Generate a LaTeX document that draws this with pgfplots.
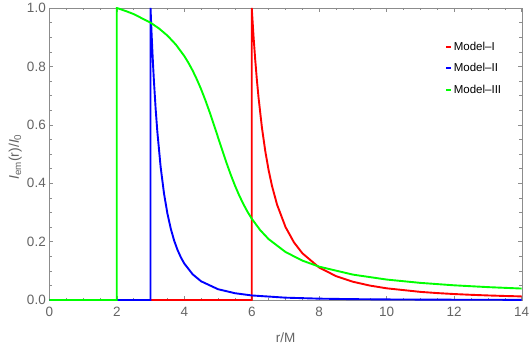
\documentclass[border=0pt]{standalone}
\usepackage{fontspec}
\setmainfont{Liberation Sans}
\usepackage{pgfplots}
\pgfplotsset{compat=1.18}
\definecolor{framegray}{RGB}{140,140,140}
\definecolor{labelgray}{RGB}{100,100,100}
\begin{document}
\begin{tikzpicture}
\useasboundingbox (0,0) rectangle (532pt,346pt);
\begin{axis}[
    at={(49.3pt,46pt)}, anchor=south west,
    scale only axis,
    width=472.4pt, height=292pt,
    xmin=0, xmax=14, ymin=0, ymax=1,
    xtick={0,2,...,14}, ytick={0,0.2,...,1},
    minor x tick num=3, minor y tick num=3,
    tick align=inside,
    major tick length=4pt, minor tick length=2.5pt,
    axis line style={framegray},
    every tick/.style={framegray, line width=0.5pt},
    tick label style={font=\fontsize{13.5}{15}\selectfont, text=labelgray},
    /pgf/number format/assume math mode=true,
    yticklabel style={/pgf/number format/fixed, /pgf/number format/fixed zerofill, /pgf/number format/precision=1},
    xticklabel style={yshift=-4pt},
    xlabel={r/M}, ylabel={\textit{I}\textsubscript{em}(r)/\textit{I}\textsubscript{0}},
    label style={text=labelgray},
    xlabel style={font=\fontsize{13.5}{15}\selectfont, at={(axis description cs:0.5,-0.13)}, anchor=center},
    ylabel style={font=\fontsize{14}{16}\selectfont, at={(axis description cs:-0.072,0.49)}, anchor=center},
    clip=true,
    legend style={draw=none, fill=none, at={(0.838,0.892)}, anchor=north west,
        font=\fontsize{11.5}{13}\selectfont, row sep=8pt, inner sep=0pt,
        /tikz/every even column/.append style={column sep=5pt}},
    legend cell align=left,
    legend image code/.code={\draw[#1, line width=2pt] (0pt,0pt)--(4.5pt,0pt);},
]
% Model-I
\addplot[red, line width=1.9pt] coordinates {
    (0,0) (6,0) (6,1) (6.05,0.907) (6.1,0.8264) (6.15,0.7561) (6.2,0.6944)
    (6.3,0.5917) (6.4,0.5102) (6.5,0.4444) (6.6,0.3906) (6.75,0.3265)
    (7,0.25) (7.25,0.1975) (7.5,0.16) (8,0.1111) (8.5,0.0816) (9,0.0625)
    (9.5,0.0494) (10,0.04) (11,0.0278) (11.5,0.0237) (12,0.0204)
    (12.5,0.0178) (13,0.0156) (13.5,0.0138) (14,0.0123)
};
\addlegendentry{Model–I}
% Model-II
\addplot[blue, line width=1.9pt] coordinates {
    (0,0) (3,0) (3,1) (3.025,0.9286) (3.05,0.8638) (3.075,0.805) (3.1,0.7513)
    (3.15,0.6575) (3.2,0.5787) (3.3,0.4552) (3.4,0.3644) (3.5,0.2963)
    (3.6,0.2441) (3.7,0.2035) (3.8,0.1715) (3.9,0.1458) (4,0.125)
    (4.25,0.0878) (4.5,0.064) (5,0.037) (5.5,0.0233) (6,0.0156) (7,0.008)
    (8,0.00463) (9,0.00292) (10,0.00195) (12,0.001) (14,0.00058)
};
\addlegendentry{Model–II}
% Model-III
\addplot[green, line width=1.9pt] coordinates {
    (0,0) (2,0) (2,1) (2.25,0.9903) (2.5,0.9792) (3,0.9497) (3.25,0.9300)
    (3.5,0.9056) (3.75,0.8748) (4,0.8356) (4.125,0.8120) (4.25,0.7853)
    (4.375,0.7551) (4.5,0.7215) (4.625,0.6843) (4.75,0.6439) (4.875,0.6012)
    (5,0.5571) (5.125,0.5130) (5.25,0.4702) (5.375,0.4298) (5.5,0.3926)
    (5.625,0.3590) (5.75,0.3288) (5.875,0.3021) (6,0.2785) (6.25,0.2393)
    (6.5,0.2085) (7,0.1644) (7.5,0.1349) (8,0.1141) (9,0.0869) (10,0.0700)
    (11,0.0586) (12,0.0503) (13,0.0441) (14,0.0392)
};
\addlegendentry{Model–III}
\end{axis}
\end{tikzpicture}
\end{document}
